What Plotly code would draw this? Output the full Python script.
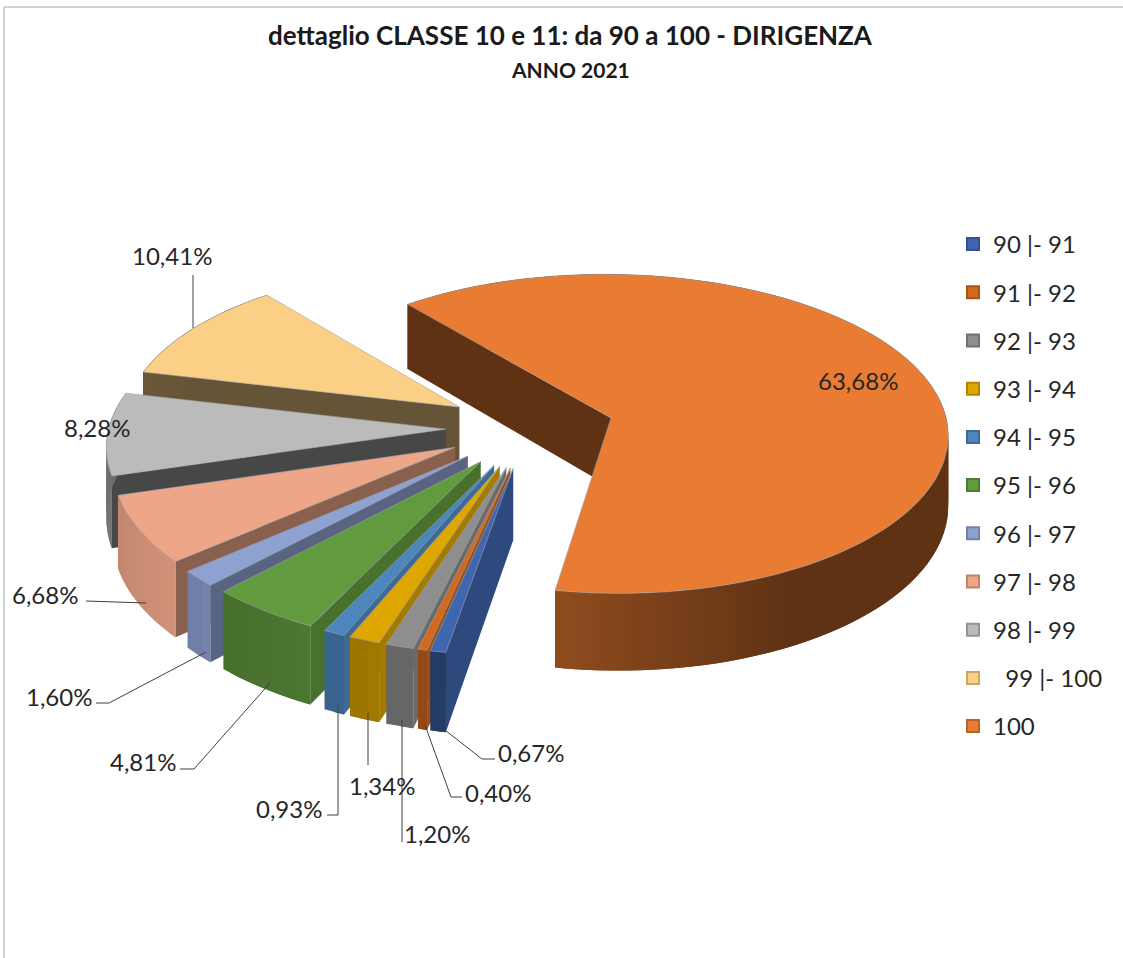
import math
import plotly.graph_objects as go

# --- data -----------------------------------------------------------------
categories = ["90 |- 91", "91 |- 92", "92 |- 93", "93 |- 94", "94 |- 95", "95 |- 96",
              "96 |- 97", "97 |- 98", "98 |- 99", "\u00a0\u00a099 |- 100", "100"]
values = [0.67, 0.40, 1.20, 1.34, 0.93, 4.81, 1.60, 6.68, 8.28, 10.41, 63.68]
value_labels = ["0,67%", "0,40%", "1,20%", "1,34%", "0,93%", "4,81%", "1,60%", "6,68%", "8,28%", "10,41%", "63,68%"]

# --- styles ---------------------------------------------------------------
colors = ["#3F66B0", "#D2691F", "#8E8E8E", "#DFA600", "#4C86BC", "#629A3E",
          "#8EA2D2", "#EDA688", "#BBBBBB", "#FBCF85", "#E97C32"]
edge_shade = [0.72, 0.75, 0.75, 0.74, 0.80, 0.74, 0.62, 0.58, 0.38, 0.41, 0.41]
outer_shade = [0.58, 0.70, 0.72, 0.72, 0.75, 0.75, 0.80, 0.85, 0.60, 0.41, 0.41]

FONT = "Lato"
TEXT = "#262626"
FIRST_ANGLE = 190.0
EXPLODE = 0.25
DEPTH = 70.0


def project(gx, gz):
    """Ground plane (unit radius pie) to chart axes, with a slight perspective."""
    return 530 + 337 * gx / (1 + 0.09 * gz), 428 - 160 * gz / (1 + 0.10 * gz)


def shade(hex_color, f):
    r, g, b = (int(hex_color[i:i + 2], 16) for i in (1, 3, 5))
    return "rgb(%d,%d,%d)" % (r * f, g * f, b * f)


def poly(xs, ys, color, line=None, width=0.0):
    return go.Scatter(x=xs + xs[:1], y=ys + ys[:1], mode="lines", fill="toself", fillcolor=color,
                      line=dict(color=line or color, width=width), hoverinfo="skip", showlegend=False)


def rim(vx, vz, a):
    r = math.radians(a)
    return vx + math.sin(r), vz + math.cos(r)


def dp(z):
    return DEPTH / (1 + 0.1 * z)


fig = go.Figure()

# slice angles, clockwise from FIRST_ANGLE
spans, start = [], FIRST_ANGLE
for v in values:
    spans.append((start, start + v * 3.6))
    start += v * 3.6

# painter's order: last slice (the big one, at the back) first
for i in range(len(values) - 1, -1, -1):
    a0, a1 = spans[i]
    mid = math.radians((a0 + a1) / 2)
    vx, vz = EXPLODE * math.sin(mid), EXPLODE * math.cos(mid)
    c = colors[i]
    n = max(2, int((a1 - a0) / 1.5))
    angles = [a0 + (a1 - a0) * k / n for k in range(n + 1)]
    pts = [project(*rim(vx, vz, a)) for a in angles]
    grd = [rim(vx, vz, a)[1] for a in angles]
    px, pz = project(vx, vz)

    # cut face on the starting edge
    d0, dv = dp(grd[0]), dp(vz)
    fig.add_trace(poly([px, pts[0][0], pts[0][0], px],
                       [pz, pts[0][1], pts[0][1] + d0, pz + dv], shade(c, edge_shade[i])))
    # rim wall: overlapping bands, so that no seams show through the shading
    is_big = i == len(values) - 1
    order = range(n - 1, -1, -1) if is_big else range(n)
    for k in order:
        if is_big:
            ang = angles[k] - 360
            t = min(1.0, max(0.0, (ang - 150) / 40.0)) if ang > 0 else 0.0
            f = 0.41 + 0.22 * t
            lo_i, hi_i = k, min(n, k + 2)
        else:
            f = outer_shade[i] * (1.04 - 0.08 * k / n)
            lo_i, hi_i = max(0, k - 1), k + 1
        sx = [p[0] for p in pts[lo_i:hi_i + 1]]
        sy = [p[1] for p in pts[lo_i:hi_i + 1]]
        lo = [p[1] + dp(z) for p, z in zip(pts[lo_i:hi_i + 1], grd[lo_i:hi_i + 1])]
        fig.add_trace(poly(sx + sx[::-1], sy + lo[::-1], shade(c, f)))
    # top face
    fig.add_trace(poly([px] + [p[0] for p in pts], [pz] + [p[1] for p in pts], c, line="#9AA3AD", width=0.6))

# leader lines
leaders = [
    ([193, 193], [275, 328]),
    ([86, 146], [601, 603]),
    ([96, 109, 206], [703, 703, 652]),
    ([180, 194, 270], [769, 769, 683]),
    ([327, 338, 338], [815, 815, 705]),
    ([368, 368], [765, 713]),
    ([402, 402], [842, 720]),
    ([462, 451, 425], [797, 797, 725]),
    ([495, 482, 441], [759, 759, 727]),
]
for lx, ly in leaders:
    fig.add_trace(go.Scatter(x=lx, y=ly, mode="lines", line=dict(color="#404040", width=1),
                             hoverinfo="skip", showlegend=False))

# legend entries
for name, c in zip(categories, colors):
    fig.add_trace(go.Scatter(x=[None], y=[None], mode="markers", name=name, legendgroup=name,
                             marker=dict(symbol="square", size=15, color=c,
                                         line=dict(color=shade(c, 0.8), width=1))))

label_pos = [(531, 752), (498, 792), (437, 833), (382, 785), (289, 808), (143, 761),
             (59, 696), (45, 594), (97, 427), (172, 255), (858, 380)]
annotations = [dict(x=p[0], y=p[1], xref="x", yref="y", text=t, showarrow=False,
                    font=dict(family=FONT, size=24, color=TEXT))
               for t, p in zip(value_labels, label_pos)]
annotations.append(dict(x=570, y=69, xref="x", yref="y", text="<b>ANNO 2021</b>", showarrow=False,
                        font=dict(family=FONT, size=21, color="#1a1a1a")))

fig.update_layout(
    width=1123, height=958, autosize=False,
    margin=dict(l=0, r=0, t=0, b=0),
    paper_bgcolor="white", plot_bgcolor="white",
    title=dict(text="<b>dettaglio CLASSE 10 e 11: da 90 a 100 - DIRIGENZA</b>",
               x=570 / 1123, xanchor="center", y=1 - 36 / 958, yanchor="middle",
               font=dict(family=FONT, size=26, color="#1a1a1a")),
    xaxis=dict(range=[0, 1123], visible=False, fixedrange=True),
    yaxis=dict(range=[958, 0], visible=False, fixedrange=True),
    legend=dict(x=953 / 1123, y=1 - 222 / 958, xanchor="left", yanchor="top",
                font=dict(family=FONT, size=24, color=TEXT), tracegroupgap=14,
                itemsizing="constant", itemwidth=30, bgcolor="rgba(0,0,0,0)"),
    annotations=annotations,
    shapes=[
        dict(type="line", xref="paper", yref="paper", x0=4 / 1123, x1=4 / 1123, y0=0, y1=1 - 7 / 958,
             line=dict(color="#A6A6A6", width=1)),
        dict(type="line", xref="paper", yref="paper", x0=4 / 1123, x1=1, y0=1 - 7 / 958, y1=1 - 7 / 958,
             line=dict(color="#A6A6A6", width=1)),
    ],
)

fig.write_html("out.html", config={"displayModeBar": False},
               post_script="document.body.style.margin='0';document.body.style.overflow='hidden';")
